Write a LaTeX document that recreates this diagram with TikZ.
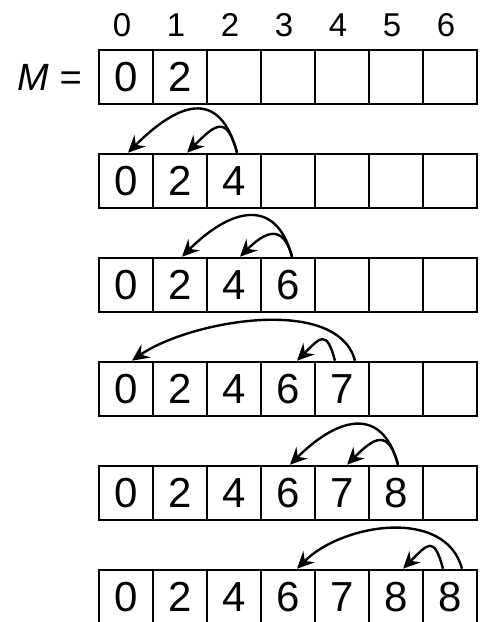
\documentclass[tikz,border=0pt]{standalone}
\usepackage{fontspec}
\setmainfont{Liberation Sans}
\usepackage{tikz}
\usetikzlibrary{arrows.meta, positioning}
\def\cellW{54}
\def\rowH{104}

\begin{document}
\begin{tikzpicture}[
    x=1pt, y=1pt,
    cell/.style={draw, line width=2.6pt, minimum width=\cellW pt, minimum height=\cellW pt,
                 inner sep=0pt, font=\fontsize{42}{42}\selectfont},
    idx/.style={inner sep=0pt, font=\fontsize{33}{33}\selectfont},
    hop/.style={-{Stealth[length=17pt,width=16pt,inset=6pt]}, line width=2.4pt,
                out=105, in=45, distance=#1 pt}
]
\useasboundingbox (0,0) rectangle (484,-622);

% index row
\foreach \c in {0,...,6}
  \node[idx] (i\c) at ({122+\cellW*\c},-25) {\c};

% the six states of M
\foreach \r in {0,...,5}{
  \pgfmathtruncatemacro\n{\r+2}
  \foreach \v [count=\c from 0] in {0,2,4,6,7,8,8}{
    \ifnum\c<\n
      \node[cell] (m\r-\c) at ({126+\cellW*\c},{-77-\rowH*\r}) {\v};
    \else
      \node[cell] (m\r-\c) at ({126+\cellW*\c},{-77-\rowH*\r}) {};
    \fi
  }
}

\node[idx, left=16pt of m0-0, font=\fontsize{38}{38}\selectfont\itshape] (mname) {M =};

% shifts
\draw[hop=69] ([xshift=3pt]m1-2.north) to ([xshift=2pt]m1-0.north);
\draw[hop=40] ([xshift=3pt]m1-2.north) to ([xshift=7pt]m1-1.north);

\draw[hop=65] ([xshift=4pt]m2-3.north) to ([xshift=2pt]m2-1.north);
\draw[hop=35] ([xshift=4pt]m2-3.north) to ([xshift=6pt]m2-2.north);

\draw[hop=69, in=35] ([xshift=13pt]m3-4.north) to ([xshift=6pt]m3-0.north);
\draw[hop=33] ([xshift=-7pt]m3-4.north) to ([xshift=9pt]m3-3.north);

\draw[hop=64] ([xshift=2pt]m4-5.north) to ([xshift=2pt]m4-3.north);
\draw[hop=38] ([xshift=2pt]m4-5.north) to ([xshift=5pt]m4-4.north);

\draw[hop=64] ([xshift=12pt]m5-6.north) to ([xshift=9pt]m5-3.north);
\draw[hop=35] ([xshift=-7pt]m5-6.north) to ([xshift=7pt]m5-5.north);
\end{tikzpicture}
\end{document}
